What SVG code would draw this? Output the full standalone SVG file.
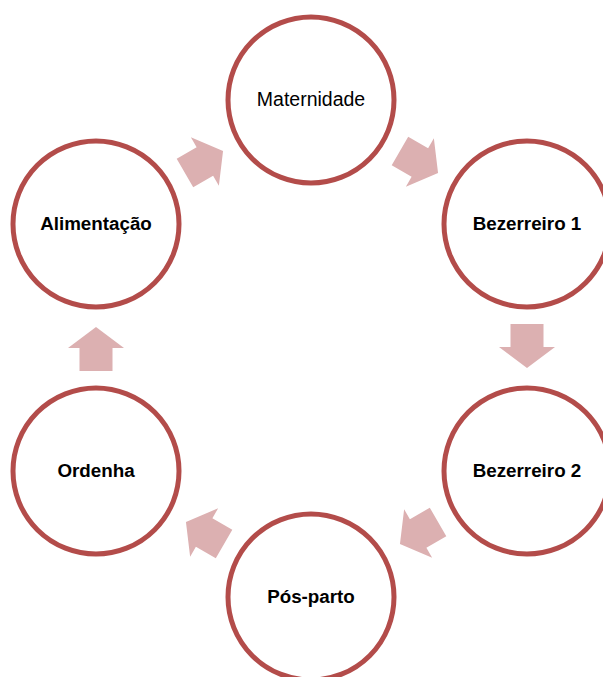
<svg xmlns="http://www.w3.org/2000/svg" width="603" height="677" viewBox="0 0 603 677">
<style>
.node circle{fill:#fff;stroke:#B34C4A;stroke-width:5}
.node text{font-family:"Liberation Sans",Arial,sans-serif;font-size:18.8px;font-weight:bold;fill:#000;text-anchor:middle}
.node text.reg{font-weight:normal;font-size:19.5px}
.arrow{fill:#DCB0B1}
</style>
<defs>
<polygon id="arr" points="-22,-16.5 1,-16.5 1,-28 22,0 1,28 1,16.5 -22,16.5"/>
</defs>
<g id="connectors">
<use href="#arr" class="arrow" transform="translate(204,162) rotate(-30)"/>
<use href="#arr" class="arrow" transform="translate(419,162) rotate(30)"/>
<use href="#arr" class="arrow" transform="translate(527,346) rotate(90)"/>
<use href="#arr" class="arrow" transform="translate(419,533) rotate(150)"/>
<use href="#arr" class="arrow" transform="translate(205,533) rotate(210)"/>
<use href="#arr" class="arrow" transform="translate(96,349) rotate(-90)"/>
</g>
<g id="maternidade" class="node"><circle cx="311" cy="100" r="83"/><text class="reg" x="311" y="106">Maternidade</text></g>
<g id="bezerreiro1" class="node"><circle cx="527" cy="224" r="83"/><text x="527" y="230">Bezerreiro 1</text></g>
<g id="bezerreiro2" class="node"><circle cx="527" cy="471" r="83"/><text x="527" y="477">Bezerreiro 2</text></g>
<g id="posparto" class="node"><circle cx="311" cy="597" r="83"/><text x="311" y="603">Pós-parto</text></g>
<g id="ordenha" class="node"><circle cx="96" cy="471" r="83"/><text x="96" y="477">Ordenha</text></g>
<g id="alimentacao" class="node"><circle cx="96" cy="224" r="83"/><text x="96" y="230">Alimentação</text></g>
</svg>
